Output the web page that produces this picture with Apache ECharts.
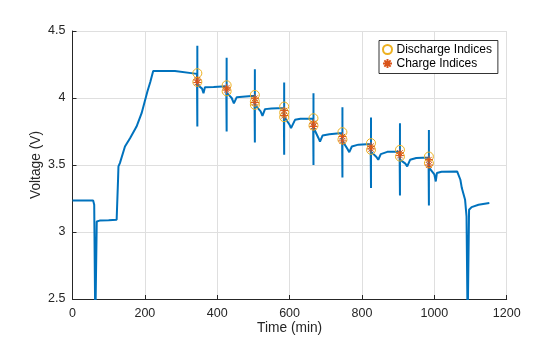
<!DOCTYPE html>
<html>
<head>
<meta charset="utf-8">
<script src="https://cdn.jsdelivr.net/npm/echarts@6/dist/echarts.min.js"></script>
<style>html,body{margin:0;padding:0;background:#fff}#c{width:560px;height:337px}</style>
</head>
<body>
<div id="c"></div>
<script>
// Voltage trace (time in minutes, voltage in V)
const timeMin = [0,57,60,63,65,67,75,100,122,126,127,131,145,159,177,191,207,215,223,283,288,344,
  345,345,345,345,347,358,362,366,390,425,
  426,426,426,428,440,446,454,470,503,
  504,504,504,506,520,525,532,550,584,
  585,585,585,587,600,604,615,630,665,
  666,666,666,668,680,684,691,710,745,
  746,746,746,748,760,765,772,790,824,
  825,825,825,827,840,845,852,870,904,
  905,905,905,907,920,925,933,950,984,
  985,985,985,987,1000,1004,1007,1020,1063,1072,1076,1085,1089,1092,1094,1096,1103,1122,1152];
const voltage = [3.236,3.236,3.204,2.3,2.3,3.079,3.085,3.088,3.092,3.40,3.489,3.514,3.638,3.70,3.787,3.887,4.048,4.12,4.202,4.202,4.192,4.18,
  3.787,4.39,4.11,4.10,4.095,4.07,4.036,4.08,4.082,4.088,
  3.75,4.30,4.04,4.03,4.00,3.96,4.006,4.01,4.016,
  3.668,4.215,3.95,3.94,3.90,3.867,3.917,3.922,3.925,
  3.576,4.115,3.86,3.85,3.80,3.775,3.837,3.845,3.847,
  3.50,4.036,3.78,3.77,3.70,3.675,3.72,3.73,3.738,
  3.407,3.931,3.68,3.67,3.62,3.596,3.638,3.652,3.656,
  3.328,3.854,3.60,3.59,3.56,3.539,3.581,3.598,3.601,
  3.273,3.812,3.54,3.53,3.51,3.489,3.539,3.552,3.556,
  3.198,3.762,3.49,3.475,3.43,3.377,3.44,3.45,3.452,3.39,3.328,3.24,3.116,2.3,2.3,3.166,3.186,3.203,3.216];

// Discharge indices markers
const dischargeTime = [345,345,426,426,504,504,504,585,585,585,666,666,746,746,825,825,905,905,985,985];
const dischargeVolt = [4.185,4.12,4.095,4.05,4.023,3.973,3.949,3.936,3.891,3.857,3.849,3.794,3.745,3.69,3.663,3.613,3.613,3.563,3.563,3.514];
// Charge indices markers
const chargeTime = [345,345,426,426,504,504,585,585,666,666,746,746,825,825,905,905,985,985];
const chargeVolt = [4.135,4.115,4.075,4.06,3.998,3.966,3.906,3.869,3.812,3.787,3.712,3.68,3.64,3.62,3.59,3.57,3.54,3.50];

const xTicks = [0,200,400,600,800,1000,1200];
const yTicks = [2.5,3,3.5,4,4.5];

const zip = (a,b) => a.map((v,i)=>[v,b[i]]);
const font = 'Liberation Sans, Arial, Helvetica, sans-serif';
const axisColor = '#262626';
const star = 'path://M0,-1L0,1M-1,0L1,0M-0.7,-0.7L0.7,0.7M-0.7,0.7L0.7,-0.7';

const chart = echarts.init(document.getElementById('c'), null, {renderer:'canvas'});
chart.setOption({
  animation: false,
  backgroundColor: '#fff',
  grid: {left: 72.5, right: 53.3, top: 31, bottom: 38, containLabel: false, outerBoundsMode: 'none'},
  legend: {
    left: 379, top: 40.5, orient: 'vertical',
    backgroundColor: '#fff', borderColor: '#000', borderWidth: 0.8,
    padding: [3, 6, 4, 3], itemGap: 2, itemWidth: 14, itemHeight: 9,
    textStyle: {fontFamily: font, fontSize: 12, color: '#000', padding: [0,0,0,-3]},
    data: ['Discharge Indices', 'Charge Indices']
  },
  xAxis: {
    type: 'value', min: xTicks[0], max: xTicks[xTicks.length-1], interval: 200,
    name: 'Time (min)', nameLocation: 'middle', nameGap: 22, nameMoveOverlap: false,
    nameTextStyle: {fontFamily: font, fontSize: 13.75, color: axisColor},
    axisLine: {lineStyle: {color: axisColor, width: 1}},
    axisTick: {inside: true, length: 4, lineStyle: {color: axisColor}},
    axisLabel: {fontFamily: font, fontSize: 12.5, color: axisColor, margin: 8,
      formatter: v => String(v)},
    splitLine: {show: true, lineStyle: {color: '#dfdfdf', width: 1}}
  },
  yAxis: {
    type: 'value', min: yTicks[0], max: yTicks[yTicks.length-1], interval: 0.5,
    name: 'Voltage (V)', nameLocation: 'middle', nameGap: 29, nameMoveOverlap: false,
    nameTextStyle: {fontFamily: font, fontSize: 13.75, color: axisColor},
    axisLine: {show: true, lineStyle: {color: axisColor, width: 1}},
    axisTick: {show: true, inside: true, length: 4, lineStyle: {color: axisColor}},
    axisLabel: {fontFamily: font, fontSize: 12.5, color: axisColor, margin: 7,
      formatter: v => String(v)},
    splitLine: {show: true, lineStyle: {color: '#dfdfdf', width: 1}}
  },
  series: [
    {
      name: 'Voltage', type: 'line', data: zip(timeMin, voltage), showSymbol: false, symbol: 'none',
      lineStyle: {color: '#0072BD', width: 2}, clip: true, z: 2
    },
    {
      name: 'Discharge Indices', type: 'scatter', data: zip(dischargeTime, dischargeVolt),
      symbol: 'circle', symbolSize: 9,
      itemStyle: {color: 'rgba(0,0,0,0)', borderColor: '#EDB120', borderWidth: 1, opacity: 1}, z: 3
    },
    {
      name: 'Charge Indices', type: 'scatter', data: zip(chargeTime, chargeVolt),
      symbol: star, symbolSize: 8,
      itemStyle: {color: '#D95319', borderColor: '#D95319', borderWidth: 1, opacity: 1}, z: 4
    }
  ]
});
</script>
</body>
</html>
